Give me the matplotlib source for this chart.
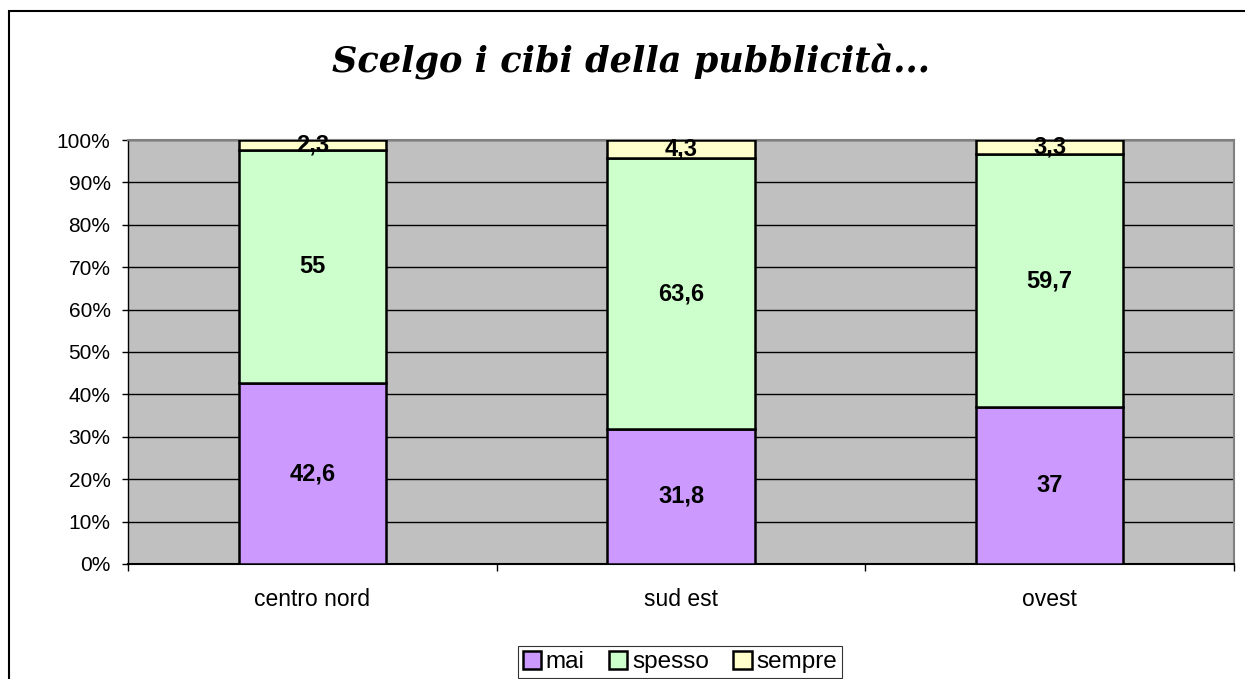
import numpy as np
import matplotlib.pyplot as plt
from matplotlib.patches import Rectangle

# Data
categories = ["centro nord", "sud est", "ovest"]
mai = [42.6, 31.8, 37]
spesso = [55, 63.6, 59.7]
sempre = [2.3, 4.3, 3.3]
mai_labels = ["42,6", "31,8", "37"]
spesso_labels = ["55", "63,6", "59,7"]
sempre_labels = ["2,3", "4,3", "3,3"]

plt.rcParams['font.family'] = ['Liberation Sans', 'DejaVu Sans']

# 100% stacked: normalise each column
tot = np.array(mai) + np.array(spesso) + np.array(sempre)
p_mai = np.array(mai) / tot
p_spesso = np.array(spesso) / tot
p_sempre = np.array(sempre) / tot

fig = plt.figure(figsize=(12.45, 6.79), dpi=100)
ax = fig.add_axes([0.1028, 0.1694, 0.8884, 0.6244])
ax.set_facecolor('#C0C0C0')

x = np.arange(len(categories))
w = 0.4
b1 = ax.bar(x, p_mai, w, color='#CC99FF', edgecolor='black', lw=1.8, label='mai', zorder=3)
b2 = ax.bar(x, p_spesso, w, bottom=p_mai, color='#CCFFCC', edgecolor='black', lw=1.8,
            label='spesso', zorder=3)
b3 = ax.bar(x, p_sempre, w, bottom=p_mai + p_spesso, color='#FFFFCC', edgecolor='black',
            lw=1.8, label='sempre', zorder=3)

# value labels in the middle of each segment
for bars, labs in [(b1, mai_labels), (b2, spesso_labels), (b3, sempre_labels)]:
    for r, lab in zip(bars, labs):
        ax.text(r.get_x() + r.get_width() / 2, r.get_y() + r.get_height() / 2, lab,
                ha='center', va='center', fontsize=17, fontweight='bold', zorder=4)

ax.set_xlim(-0.5, 2.5)
ax.set_ylim(0, 1)
ax.set_yticks(np.arange(0, 1.01, 0.1))
ax.set_yticklabels([f"{int(round(v * 100))}%" for v in np.arange(0, 1.01, 0.1)])
ax.yaxis.grid(True, color='black', lw=1, zorder=1)
ax.tick_params(axis='y', direction='out', length=4.5, width=1, labelsize=15, pad=8)

ax.set_xticks(x)
ax.set_xticklabels(categories)
ax.set_xticks([-0.5, 0.5, 1.5, 2.5], minor=True)
ax.tick_params(axis='x', which='major', length=0, labelsize=16.5, pad=17)
ax.tick_params(axis='x', which='minor', direction='out', length=5, width=1)

for s in ['top', 'right']:
    ax.spines[s].set_color('#808080')
    ax.spines[s].set_linewidth(1.5)
ax.spines['left'].set_linewidth(1)
ax.spines['bottom'].set_linewidth(1.5)

fig.text(631 / 1245, 1 - 62 / 679, "Scelgo i cibi della pubblicità...", ha='center', va='center',
         fontsize=25.3, fontweight='bold', fontstyle='italic', family='DejaVu Serif')

leg = fig.legend(loc='center', bbox_to_anchor=(680 / 1245, 1 - 662 / 679), ncol=3, fontsize=17.5,
                 frameon=True, fancybox=False, edgecolor='black', handlelength=0.75,
                 handleheight=0.75, handletextpad=0.2, columnspacing=1.0, borderpad=0.2)
leg.get_frame().set_linewidth(0.8)

# outer chart border
fig.patches.append(Rectangle((9 / 1245, -0.1), 2, 1 - 11 / 679 + 0.1, transform=fig.transFigure,
                             fill=False, edgecolor='black', lw=1.5))

fig.savefig('out.png', dpi=100)
